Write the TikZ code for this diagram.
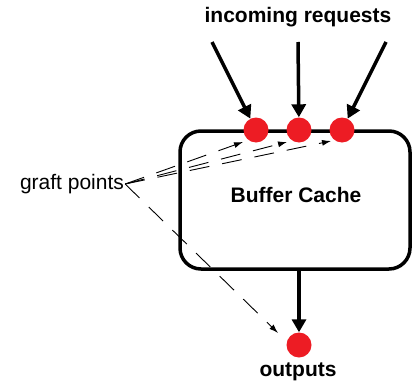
\documentclass[tikz,border=0pt]{standalone}
\usepackage{fontspec}
\setmainfont{Liberation Sans}
\usetikzlibrary{arrows.meta}
\definecolor{dotred}{RGB}{237,28,36}

\begin{document}
\begin{tikzpicture}[x=1pt, y=-1pt,
    every node/.style={font=\fontsize{21}{25}\selectfont},
    dot/.style={circle, fill=dotred, minimum size=25pt, inner sep=0pt},
    cachebox/.style={draw, line width=3.5pt, rounded corners=21pt, minimum width=230pt, minimum height=138pt, inner sep=0pt},
    feed/.style={line width=3.5pt, -{Triangle[length=13pt, width=14pt]}},
    graft/.style={line width=0.9pt, dash pattern=on 20pt off 13pt, -{Latex[length=9pt, width=6pt]}}]
    \useasboundingbox (0,0) rectangle (412,388);

    % coordinates to be reused
    \coordinate (in1) at (212,42);
    \coordinate (in2) at (298,42);
    \coordinate (in3) at (386,42);
    \coordinate (g1) at (243,142);
    \coordinate (g2) at (287,142);
    \coordinate (g3) at (331,141);
    \coordinate (g4) at (278,333);

    % draw figure
    \node [cachebox] (cache) at (295,200) {};
    \node [font=\fontsize{21}{25}\selectfont\bfseries] (lbl) at (296,195) {Buffer Cache};
    \node [dot] (c1) at (256,130) {};
    \node [dot] (c2) at (299,130) {};
    \node [dot] (c3) at (342,130) {};
    \node [dot] (out) at (299,345) {};
    \draw [feed] (in1) -- (c1);
    \draw [feed] (in2) -- (c2);
    \draw [feed] (in3) -- (c3);
    \draw [feed] (out |- cache.south) -- (out);

    % add labels
    \node [font=\fontsize{21}{25}\selectfont\bfseries] (req) at (298,17) {incoming requests};
    \node [font=\fontsize{21}{25}\selectfont\bfseries] (outlbl) at (298,372) {outputs};
    \node [inner sep=1pt] (gp) at (72,184) {graft points};
    \draw [graft] (gp.east) -- (g1);
    \draw [graft] (gp.east) -- (g2);
    \draw [graft] (gp.east) -- (g3);
    \draw [graft] (gp.east) -- (g4);
\end{tikzpicture}
\end{document}
